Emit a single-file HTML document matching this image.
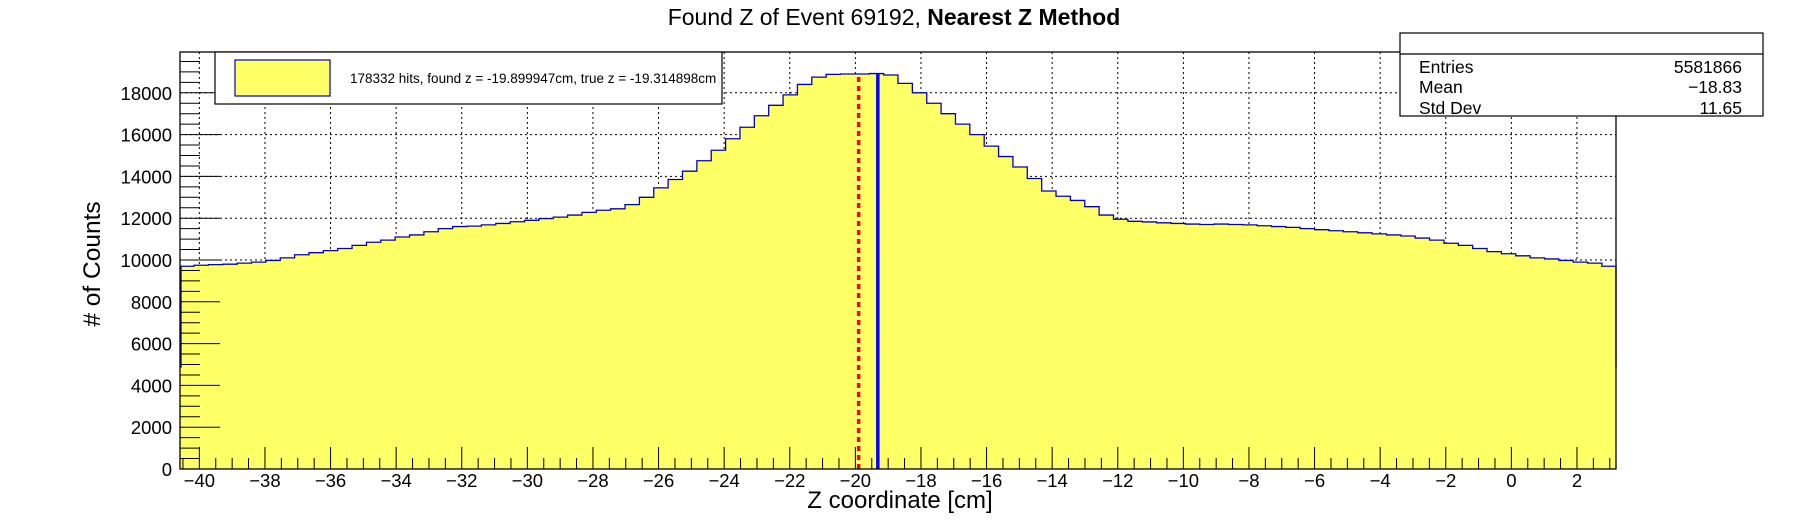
<!DOCTYPE html>
<html><head><meta charset="utf-8">
<style>
html,body{margin:0;padding:0;background:#fff;}
svg{display:block;font-family:"Liberation Sans",Arial,sans-serif;}
</style></head>
<body>
<svg id="chart" width="1796" height="522" viewBox="0 0 1796 522" xmlns="http://www.w3.org/2000/svg">
  <rect x="0" y="0" width="1796" height="522" fill="#fff"/>
  <text x="894" y="25" text-anchor="middle" font-size="23">Found Z of Event 69192,  <tspan font-weight="bold">Nearest Z Method</tspan></text>
  <g id="grid"></g>
  <g id="hist"></g>
  <g id="marks"></g>
  <g id="axes"></g>
  <text x="900" y="508" text-anchor="middle" font-size="24">Z coordinate [cm]</text>
  <text transform="translate(100,264) rotate(-90)" text-anchor="middle" font-size="24.5"># of Counts</text>
  <g>
    <rect x="215" y="52" width="507" height="52" fill="#fff" stroke="#000" stroke-width="1.2"/>
    <rect x="235" y="60" width="95" height="36" fill="#ffff66" stroke="#0000cc" stroke-width="1.2"/>
    <text x="350" y="83" font-size="13.5">178332 hits, found z = -19.899947cm, true z = -19.314898cm</text>
  </g>
  <g>
    <rect x="1400" y="33" width="363" height="83" fill="#fff" stroke="#000" stroke-width="1.2"/>
    <line x1="1400" y1="54" x2="1763" y2="54" stroke="#000" stroke-width="1.2"/>
    <text x="1419" y="73" font-size="17.5">Entries</text>
    <text x="1742" y="73" font-size="17.5" text-anchor="end">5581866</text>
    <text x="1419" y="93" font-size="17.5">Mean</text>
    <text x="1742" y="93" font-size="17.5" text-anchor="end">−18.83</text>
    <text x="1419" y="114" font-size="17.5">Std Dev</text>
    <text x="1742" y="114" font-size="17.5" text-anchor="end">11.65</text>
  </g>
</svg>
<script>
const binStart = -40.6;
const binWidth = 0.438;
const counts = [
9700,9750,9780,9800,9850,9900,9980,10100,10250,10350,
10450,10550,10700,10850,10950,11100,11200,11350,11500,11600,
11620,11680,11750,11830,11900,11980,12050,12150,12280,12380,
12450,12650,13000,13450,13850,14250,14750,15250,15800,16350,
16900,17400,17900,18400,18750,18880,18900,18900,18920,18850,
18450,18000,17500,17000,16500,16000,15450,14950,14450,13900,
13300,13050,12850,12550,12150,11950,11850,11820,11780,11750,
11720,11700,11720,11700,11680,11640,11600,11560,11500,11450,
11400,11350,11300,11250,11200,11150,11050,10950,10800,10700,
10550,10400,10300,10200,10100,10050,9980,9900,9850,9700];
const foundZ = -19.899947;
const trueZ = -19.314898;
const xTickLabels = [-40,-38,-36,-34,-32,-30,-28,-26,-24,-22,-20,-18,-16,-14,-12,-10,-8,-6,-4,-2,0,2];
const yTickLabels = [0,2000,4000,6000,8000,10000,12000,14000,16000,18000];

const NS = "http://www.w3.org/2000/svg";
const L=180, R=1616, T=52, B=469;
const xMin=-40.59, xMax=3.19, yMax=19952;
const X = v => L + (v - xMin) / (xMax - xMin) * (R - L);
const Y = v => B - v / yMax * (B - T);
function mk(tag, parent, attrs){ const e=document.createElementNS(NS,tag); for(const k in attrs) e.setAttribute(k,attrs[k]); parent.appendChild(e); return e; }

const grid=document.getElementById('grid');
xTickLabels.forEach(v=>{
  const l=mk('line',grid,{x1:X(v),x2:X(v),y1:T,y2:B,stroke:'#000','stroke-width':1,'stroke-dasharray':'2,3'});
  
  
});
yTickLabels.forEach(v=>{
  const l=mk('line',grid,{x1:L,x2:R,y1:Y(v),y2:Y(v),stroke:'#000','stroke-width':1,'stroke-dasharray':'2,3'});
  
  
});

const hist=document.getElementById('hist');
let d='M'+X(binStart)+','+Y(0);
counts.forEach((c,i)=>{
  const x0=Math.max(X(binStart+i*binWidth),L), x1=Math.min(X(binStart+(i+1)*binWidth),R);
  d+=' L'+x0+','+Y(c)+' L'+x1+','+Y(c);
});
d+=' L'+Math.min(X(binStart+counts.length*binWidth),R)+','+Y(0)+' Z';
const fill=mk('path',hist,{d:d,fill:'#ffff66',stroke:'none'});


let o='M'+(L+1)+','+Y(counts[0]/2);
counts.forEach((c,i)=>{
  const x0=Math.max(X(binStart+i*binWidth),L+1), x1=Math.min(X(binStart+(i+1)*binWidth),R);
  o+=' L'+x0+','+Y(c)+' L'+x1+','+Y(c);
});
o+=' L'+R+','+Y(counts[counts.length-1]/2);
const outline=mk('path',hist,{d:o,fill:'none',stroke:'#0000cc','stroke-width':1.3});



const marks=document.getElementById('marks');
function binVal(z){ const i=Math.floor((z-binStart)/binWidth); return counts[Math.max(0,Math.min(counts.length-1,i))]; }
const rl=mk('line',marks,{x1:X(foundZ),x2:X(foundZ),y1:Y(0),y2:Y(binVal(foundZ)),stroke:'#ff0000','stroke-width':3.5,'stroke-dasharray':'5,4'});


const bl=mk('line',marks,{x1:X(trueZ),x2:X(trueZ),y1:Y(0),y2:Y(binVal(trueZ)),stroke:'#0000ff','stroke-width':3.5});



const axes=document.getElementById('axes');
const fr=mk('rect',axes,{x:L,y:T,width:R-L,height:B-T,fill:'none',stroke:'#000','stroke-width':1.3});


for(let v=-40.5; v<=xMax; v+=0.5){
  const major=Math.abs(v/2-Math.round(v/2))<1e-6;
  mk('line',axes,{x1:X(v),x2:X(v),y1:B,y2:B-(major?22:11),stroke:'#000','stroke-width':1});
}
xTickLabels.forEach(v=>{
  const t=mk('text',axes,{x:X(v),y:B+18,'text-anchor':'middle','font-size':18.5});
  t.textContent=v<0?'\u2212'+(-v):String(v);
  
  
});
for(let v=0; v<=yMax; v+=500){
  const major=v%2000===0;
  mk('line',axes,{x1:L,x2:L+(major?40:20),y1:Y(v),y2:Y(v),stroke:'#000','stroke-width':1});
}
yTickLabels.forEach(v=>{
  const t=mk('text',axes,{x:L-8,y:Y(v)+7,'text-anchor':'end','font-size':18.5});
  t.textContent=String(v);
  
  
});
</script>
</body></html>
